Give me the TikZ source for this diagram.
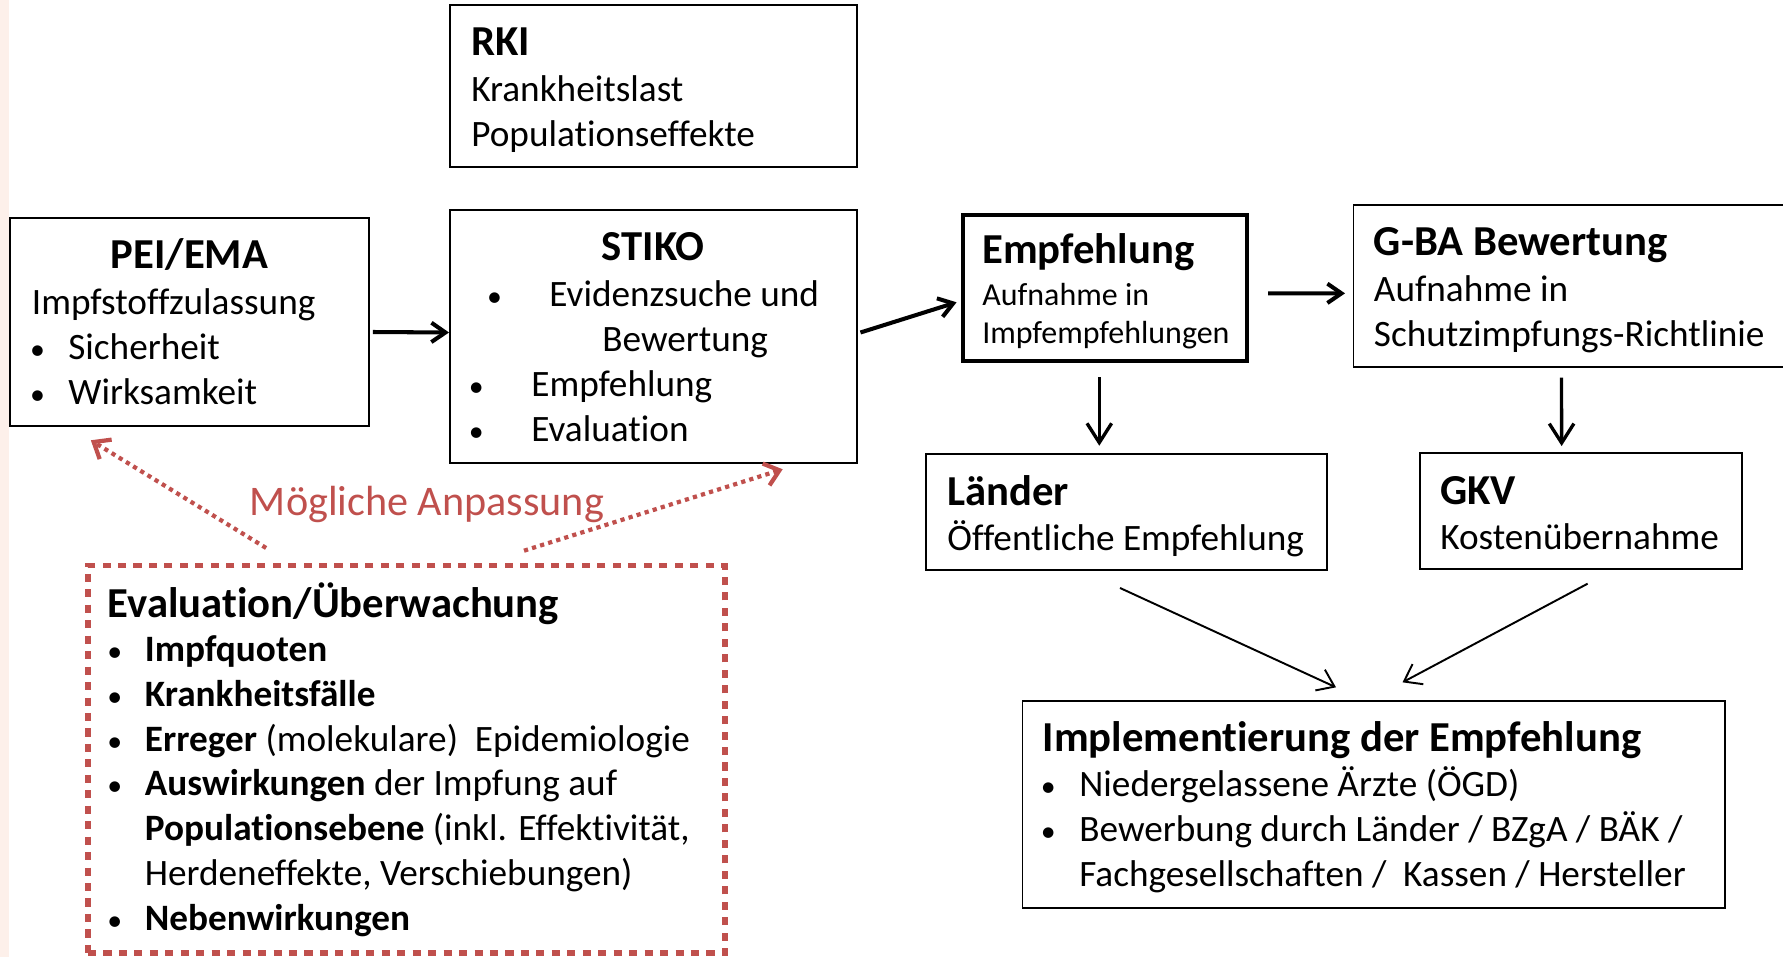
\documentclass[tikz,border=0pt]{standalone}
\usepackage{fontspec}
\setmainfont{Carlito}[Ligatures=NoCommon]
\usetikzlibrary{arrows.meta,fit,calc}
\definecolor{redc}{RGB}{192,80,77}
\definecolor{pinkbg}{RGB}{253,240,234}
\begin{document}
\begin{tikzpicture}[x=0.02cm,y=-0.02cm,
  box/.style={draw,line width=1.1pt,inner sep=0pt},
  thickbox/.style={draw,line width=2.3pt,inner sep=0pt},
  evalbox/.style={draw=redc,line width=3.2pt,dash pattern=on 4.6pt off 4.2pt,inner sep=0pt},
  tx/.style={anchor=base west,inner sep=0pt,font=\fontsize{21.2}{25}\selectfont},
  txb/.style={anchor=base west,inner sep=0pt,font=\fontsize{21.2}{25}\selectfont\bfseries},
  bul/.style={anchor=base,inner sep=0pt,font=\fontsize{17}{20}\selectfont},
  ts/.style={anchor=base west,inner sep=0pt,font=\fontsize{18.2}{21}\selectfont},
  th/.style={anchor=base west,inner sep=0pt,font=\fontsize{24.3}{28}\selectfont\bfseries},
  bigarrow/.style={line width=2.3pt,-{Straight Barb[length=8pt,width=11pt]}},
  varrow/.style={line width=1.9pt,-{Straight Barb[length=11pt,width=14pt]}},
  thinarrow/.style={line width=1.1pt,-{Straight Barb[length=9pt,width=13pt]}},
  dotarrow/.style={redc,line width=2.4pt,dash pattern=on 2.4pt off 2.4pt,-{Straight Barb[length=8pt,width=13pt]}},
]
\useasboundingbox (0,0) rectangle (1783,957);
\fill[pinkbg] (0,0) rectangle (9,957);

% boxes
\node[box,fit={(450,5) (857,167)}] (rki) {};
\node[box,fit={(10,218) (369,426)}] (pei) {};
\node[box,fit={(450,210) (857,463)}] (stiko) {};
\node[thickbox,fit={(962.6,214.7) (1247,360.7)}] (empf) {};
\node[box,fit={(1353.5,205) (1800,366.7)}] (gba) {};
\node[box,fit={(926,454) (1327,570)}] (laender) {};
\node[box,fit={(1420,453) (1742,569)}] (gkv) {};
\node[box,fit={(1022.5,701) (1725,908)}] (impl) {};
\node[evalbox,fit={(88,565.5) (725,953)}] (eval) {};

% RKI
\node[th] (rkiA) at (471,55) {RKI};
\node[tx] (rkiB) at (471,101) {Krankheitslast};
\node[tx] (rkiC) at (471,146) {Populationseffekte};

% PEI
\node[th,anchor=base] (peiA) at (189.5,268) {PEI/EMA};
\node[tx] (peiB) at (31.6,314) {Impfstoffzulassung};
\node[bul] (peiC) at (37.5,359) {•};
\node[tx] (peiD) at (68,359) {Sicherheit};
\node[bul] (peiE) at (37.5,404) {•};
\node[tx] (peiF) at (68,404) {Wirksamkeit};

% STIKO
\node[th,anchor=base] (stA) at (653,260) {STIKO};
\node[bul] (stB) at (494.6,306) {•};
\node[tx] (stC) at (549,306) {Evidenzsuche und};
\node[tx] (stD) at (602,351) {Bewertung};
\node[bul] (stE) at (476.4,396) {•};
\node[tx] (stF) at (531,396) {Empfehlung};
\node[bul] (stG) at (476.4,441) {•};
\node[tx] (stH) at (531,441) {Evaluation};

% Empfehlung
\node[th] (emA) at (982,263.8) {Empfehlung};
\node[ts] (emB) at (982,305) {Aufnahme in};
\node[ts] (emC) at (982,343.8) {Impfempfehlungen};

% G-BA
\node[th] (gbA) at (1373.6,255) {G-BA Bewertung};
\node[tx] (gbB) at (1373.6,301.8) {Aufnahme in};
\node[tx] (gbC) at (1373.6,346.8) {Schutzimpfungs-Richtlinie};

% Laender
\node[th] (laA) at (947,505) {Länder};
\node[tx] (laB) at (947,550) {Öffentliche Empfehlung};

% GKV
\node[th] (gkA) at (1440,504) {GKV};
\node[tx] (gkB) at (1440,549) {Kostenübernahme};

% Implementierung
\node[th] (imA) at (1042.5,751.5) {Implementierung der Empfehlung};
\node[bul] (imB) at (1048.4,796.5) {•};
\node[tx] (imC) at (1079,796.5) {Niedergelassene Ärzte (ÖGD)};
\node[bul] (imD) at (1048.4,841.5) {•};
\node[tx] (imE) at (1079,841.5) {Bewerbung durch Länder / BZgA / BÄK /};
\node[tx] (imF) at (1079,886.5) {Fachgesellschaften /\ \ Kassen / Hersteller};

% Evaluation
\node[th] (evA) at (107.6,617) {Evaluation/Überwachung};
\node[bul] (evB1) at (114.8,661.8) {•};
\node[txb] (evB2) at (144.5,661.8) {Impfquoten};
\node[bul] (evC1) at (114.8,706.5) {•};
\node[txb] (evC2) at (144.5,706.5) {Krankheitsfälle};
\node[bul] (evD1) at (114.8,751.2) {•};
\node[tx] (evD2) at (144.5,751.2) {\textbf{Erreger} (molekulare)\ \ Epidemiologie};
\node[bul] (evE1) at (114.8,795.9) {•};
\node[tx] (evE2) at (144.5,795.9) {\textbf{Auswirkungen} der Impfung auf};
\node[tx] (evF) at (144.5,840.6) {\textbf{Populationsebene} (inkl. Effektivität,};
\node[tx] (evG) at (144.5,885.3) {Herdeneffekte, Verschiebungen)};
\node[bul] (evH1) at (114.8,930) {•};
\node[txb] (evH2) at (144.5,930) {Nebenwirkungen};

% red label
\node[anchor=base west,inner sep=0pt,text=redc,font=\fontsize{24}{28}\selectfont] (anp) at (249.6,515.2) {Mögliche Anpassung};

% connectors
\draw[bigarrow] ([shift={(3,10)}]pei.east) -- ([shift={(0,-4)}]stiko.west);
\draw[bigarrow] ([shift={(2.5,-4)}]stiko.east) -- ([shift={(-4,14.6)}]empf.west);
\draw[bigarrow] ([shift={(19,5.6)}]empf.east) -- ([shift={(-7.5,7.5)}]gba.west);
\draw[varrow] ([shift={(-5.5,14.3)}]empf.south) -- ([shift={(-27.2,-7.3)}]laender.north);
\draw[varrow] ([shift={(-15.25,10)}]gba.south) -- ([shift={(-19.35,-6)}]gkv.north);
\draw[thinarrow] ([shift={(-6.5,17)}]laender.south) -- ([shift={(-37.75,-12.7)}]impl.north);
\draw[thinarrow] ([shift={(6.65,13.7)}]gkv.south) -- ([shift={(28.75,-17.7)}]impl.north);
\draw[dotarrow] ([shift={(-140.4,-14.7)}]eval.north) -- ([shift={(-98.65,13.3)}]pei.south);
\draw[dotarrow] ([shift={(117.5,-12)}]eval.north) -- ([shift={(129.2,5.3)}]stiko.south);
\end{tikzpicture}
\end{document}
